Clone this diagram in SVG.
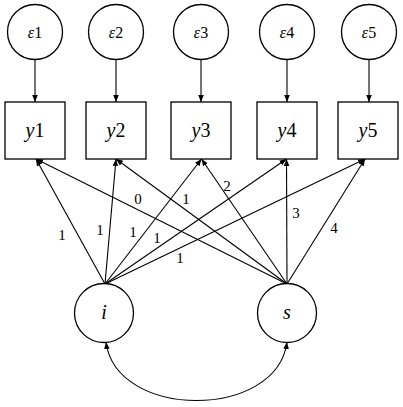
<svg xmlns="http://www.w3.org/2000/svg" width="403" height="407" viewBox="0 0 403 407">
<style>
.n{fill:#fff;stroke:#000;stroke-width:1.3}
.c{fill:none;stroke:#000;stroke-width:1.1}
text{font-family:'Liberation Serif','Times New Roman',serif;fill:#000;text-anchor:middle}
.e{font-size:16px}
.y{font-size:20px}
.l{font-size:15px}
</style>
<defs>
<marker id="a" viewBox="0 0 10 10" refX="10" refY="5" markerWidth="7" markerHeight="7" markerUnits="userSpaceOnUse" orient="auto-start-reverse">
<path d="M0,1 L10,5 L0,9 Z" fill="#000"/>
</marker>
</defs>
<rect width="403" height="407" fill="#fff"/>
<g id="connectors">
<line class="c" x1="35" y1="59" x2="35" y2="102" marker-end="url(#a)"/>
<line class="c" x1="116" y1="59" x2="116" y2="102" marker-end="url(#a)"/>
<line class="c" x1="201" y1="59" x2="201" y2="102" marker-end="url(#a)"/>
<line class="c" x1="287" y1="59" x2="287" y2="102" marker-end="url(#a)"/>
<line class="c" x1="369" y1="59" x2="369" y2="102" marker-end="url(#a)"/>
<line class="c" x1="105" y1="284" x2="36" y2="159" marker-end="url(#a)"/>
<line class="c" x1="105" y1="284" x2="116" y2="159" marker-end="url(#a)"/>
<line class="c" x1="105" y1="284" x2="201.5" y2="159" marker-end="url(#a)"/>
<line class="c" x1="105" y1="284" x2="286.5" y2="159" marker-end="url(#a)"/>
<line class="c" x1="105" y1="284" x2="365" y2="159" marker-end="url(#a)"/>
<line class="c" x1="287" y1="284" x2="36" y2="159" marker-end="url(#a)"/>
<line class="c" x1="287" y1="284" x2="116" y2="159" marker-end="url(#a)"/>
<line class="c" x1="287" y1="284" x2="201.5" y2="159" marker-end="url(#a)"/>
<line class="c" x1="287" y1="284" x2="286.5" y2="159" marker-end="url(#a)"/>
<line class="c" x1="287" y1="284" x2="365" y2="159" marker-end="url(#a)"/>
<path class="c" d="M106,342 C116,420 277,420 287,342" marker-start="url(#a)" marker-end="url(#a)"/>
<g class="l">
<text x="62" y="240">1</text>
<text x="100" y="235">1</text>
<text x="133" y="237">1</text>
<text x="157" y="243">1</text>
<text x="180" y="263">1</text>
<text x="138" y="204">0</text>
<text x="186" y="204">1</text>
<text x="227" y="191">2</text>
<text x="296" y="218">3</text>
<text x="334" y="233">4</text>
</g>
</g>
<g id="e1"><circle class="n" cx="35" cy="32" r="27.5"/><text class="e" x="35" y="38"><tspan font-style="italic">ε</tspan>1</text></g>
<g id="e2"><circle class="n" cx="116" cy="32" r="27.5"/><text class="e" x="116" y="38"><tspan font-style="italic">ε</tspan>2</text></g>
<g id="e3"><circle class="n" cx="201" cy="32" r="27.5"/><text class="e" x="201" y="38"><tspan font-style="italic">ε</tspan>3</text></g>
<g id="e4"><circle class="n" cx="287" cy="32" r="27.5"/><text class="e" x="287" y="38"><tspan font-style="italic">ε</tspan>4</text></g>
<g id="e5"><circle class="n" cx="369" cy="32" r="27.5"/><text class="e" x="369" y="38"><tspan font-style="italic">ε</tspan>5</text></g>
<g id="y1"><rect class="n" x="5" y="102" width="60" height="57"/><text class="y" x="35" y="137"><tspan font-style="italic">y</tspan>1</text></g>
<g id="y2"><rect class="n" x="86" y="102" width="60" height="57"/><text class="y" x="116" y="137"><tspan font-style="italic">y</tspan>2</text></g>
<g id="y3"><rect class="n" x="171" y="102" width="60" height="57"/><text class="y" x="201" y="137"><tspan font-style="italic">y</tspan>3</text></g>
<g id="y4"><rect class="n" x="257" y="102" width="60" height="57"/><text class="y" x="287" y="137"><tspan font-style="italic">y</tspan>4</text></g>
<g id="y5"><rect class="n" x="338" y="102" width="60" height="57"/><text class="y" x="368" y="137"><tspan font-style="italic">y</tspan>5</text></g>
<g id="i"><circle class="n" cx="104" cy="313" r="29.5"/><text class="y" x="104" y="319" font-style="italic">i</text></g>
<g id="s"><circle class="n" cx="287" cy="313" r="29.5"/><text class="y" x="287" y="319" font-style="italic">s</text></g>
</svg>
